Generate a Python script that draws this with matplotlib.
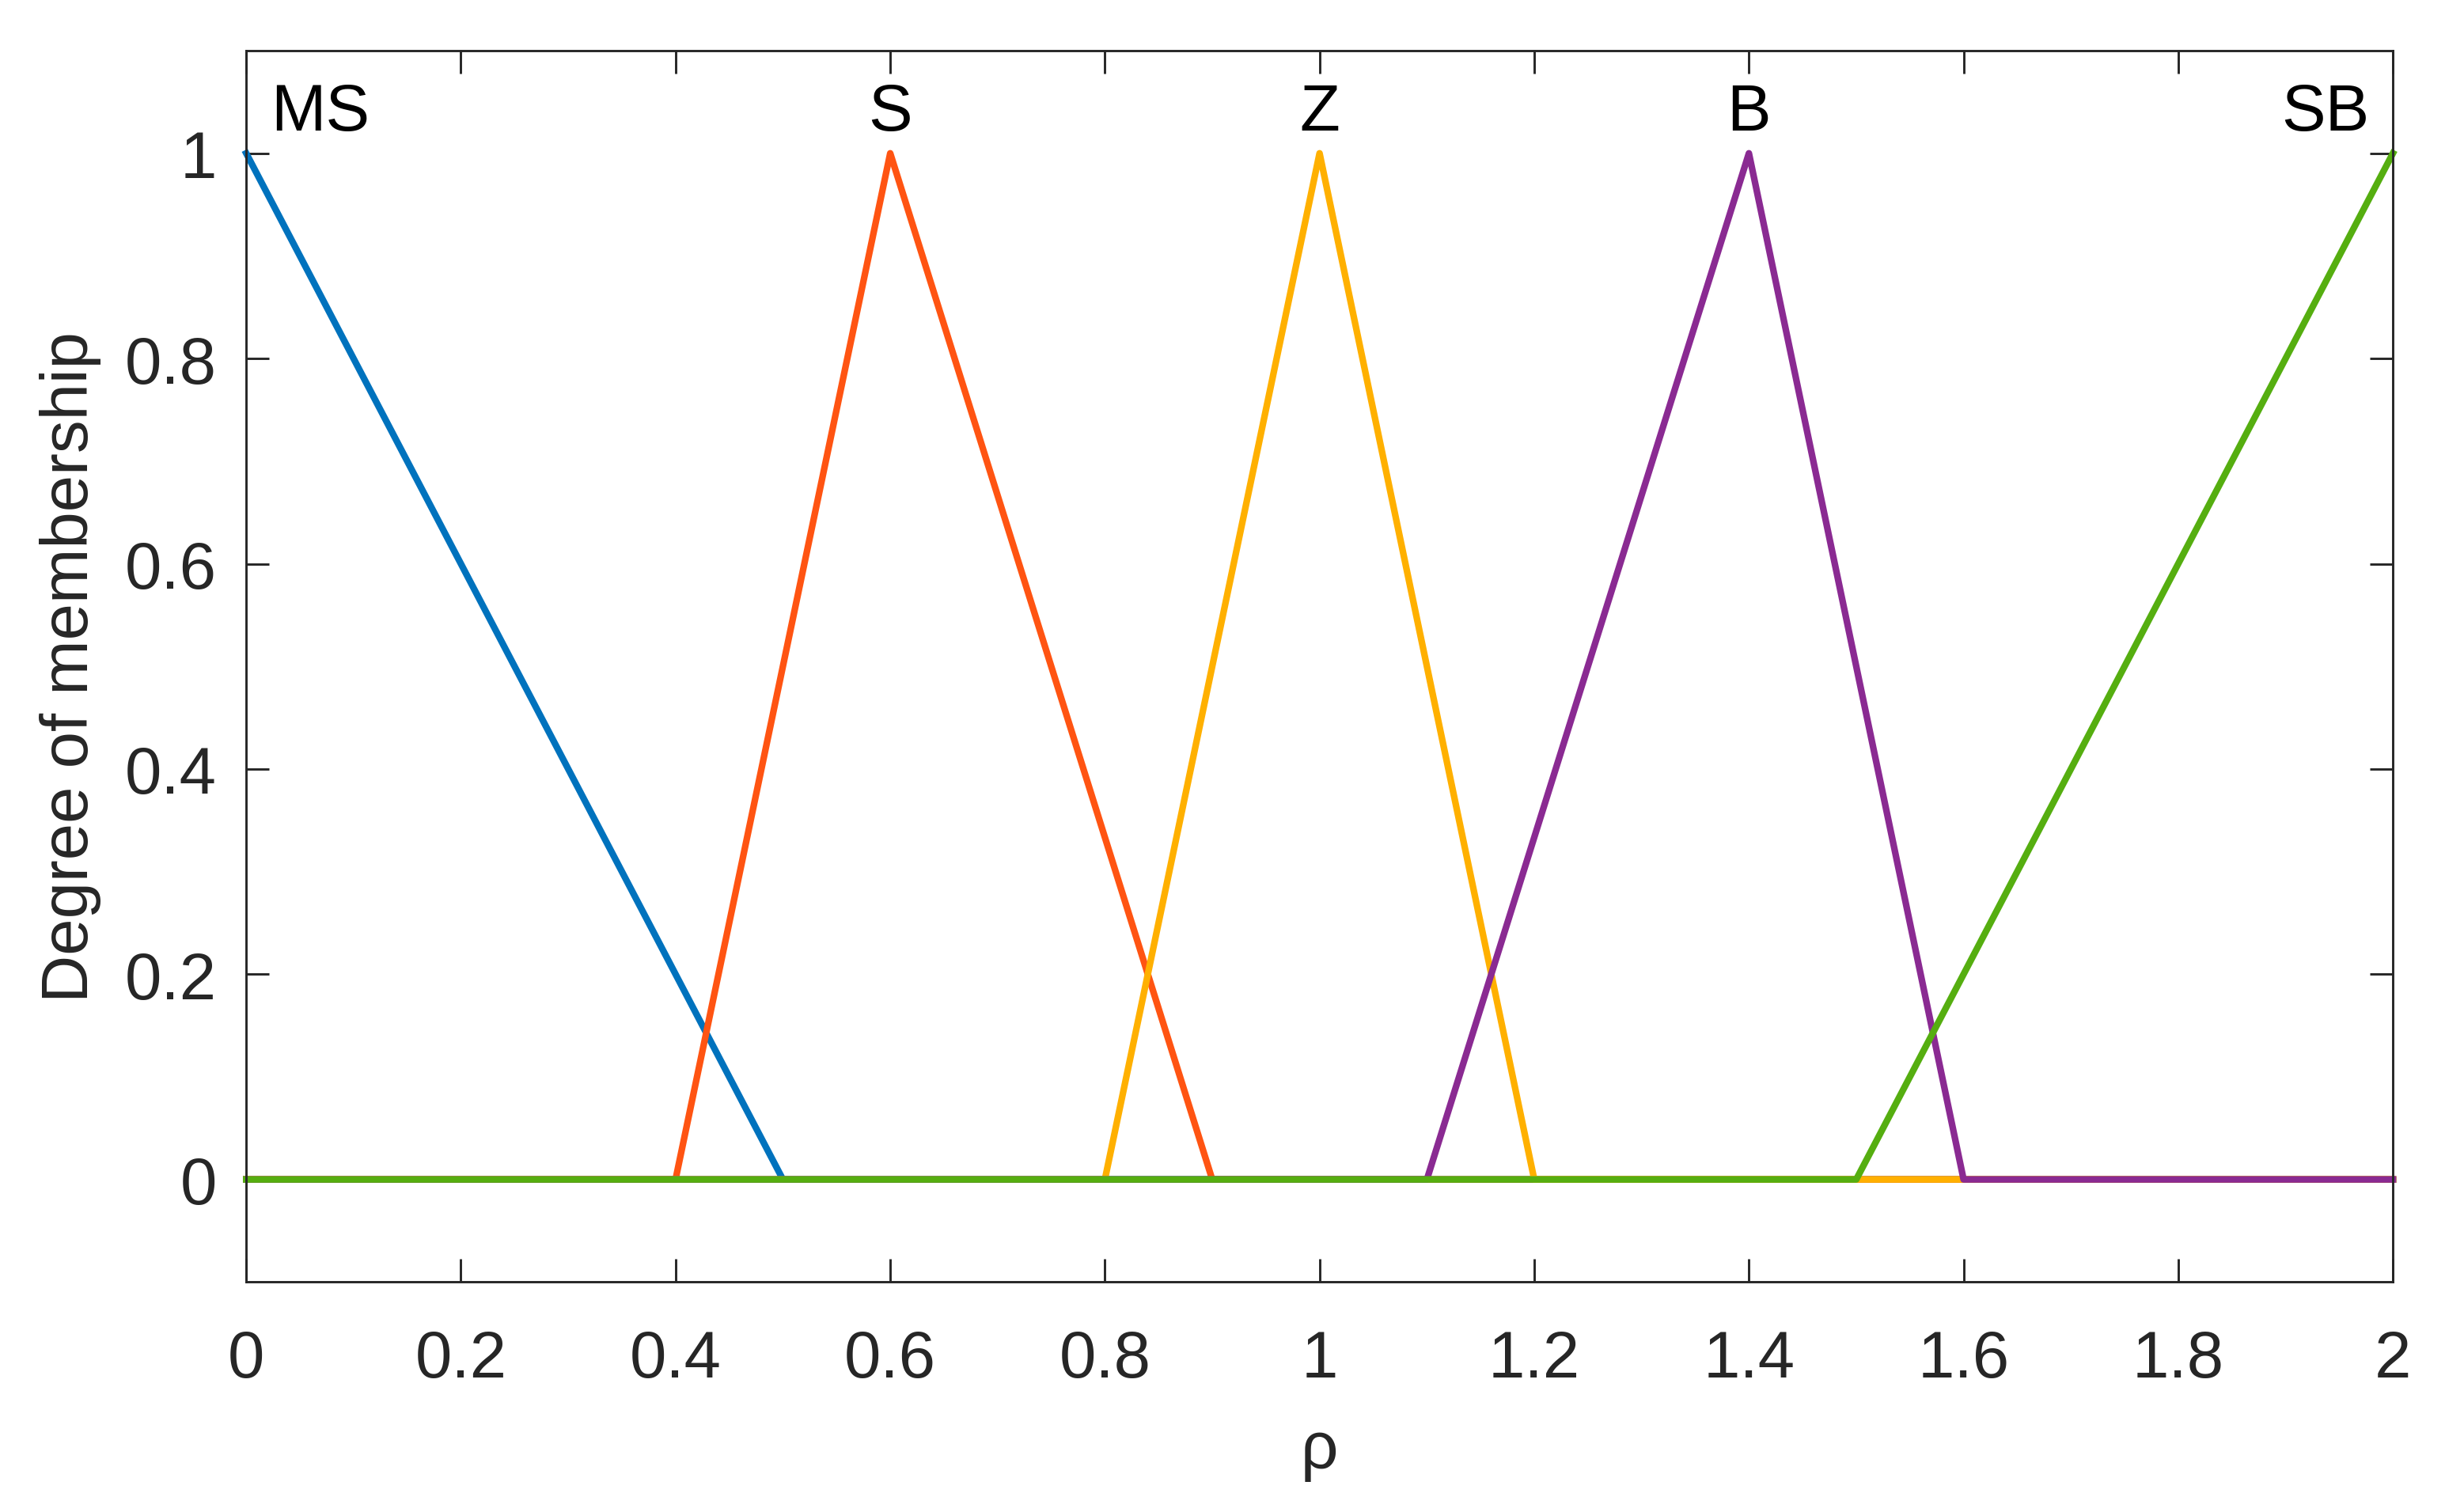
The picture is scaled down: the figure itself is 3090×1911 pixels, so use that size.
import matplotlib
matplotlib.use("Agg")
import matplotlib.pyplot as plt

plt.rcParams['font.family'] = ['Liberation Sans', 'DejaVu Sans']

# membership function breakpoints (rho, degree)
ms_x = [0, 0.5, 2]
ms_y = [1, 0, 0]
s_x = [0, 0.4, 0.6, 0.9, 2]
s_y = [0, 0, 1, 0, 0]
z_x = [0, 0.8, 1.0, 1.2, 2]
z_y = [0, 0, 1, 0, 0]
b_x = [0, 1.1, 1.4, 1.6, 2]
b_y = [0, 0, 1, 0, 0]
sb_x = [0, 1.5, 2]
sb_y = [0, 0, 1]

labels = ['MS', 'S', 'Z', 'B', 'SB']
label_x = [0.023, 0.6, 1.0, 1.4, 1.978]
label_ha = ['left', 'center', 'center', 'center', 'right']
colors = ['#0072BD', '#FF5412', '#FFB000', '#8A2A92', '#55AE10']

xticks = [0, 0.2, 0.4, 0.6, 0.8, 1, 1.2, 1.4, 1.6, 1.8, 2]
xticklabels = ['0', '0.2', '0.4', '0.6', '0.8', '1', '1.2', '1.4', '1.6', '1.8', '2']
yticks = [0, 0.2, 0.4, 0.6, 0.8, 1]
yticklabels = ['0', '0.2', '0.4', '0.6', '0.8', '1']

fig = plt.figure(figsize=(10.3, 6.3733), dpi=300)
ax = fig.add_axes([0.1007, 0.152, 0.878, 0.814])

for (x, y), c in zip([(ms_x, ms_y), (s_x, s_y), (z_x, z_y), (b_x, b_y), (sb_x, sb_y)], colors):
    ax.plot(x, y, color=c, lw=2.0, solid_joinstyle='round', clip_on=False)

for lab, lx, ha in zip(labels, label_x, label_ha):
    ax.text(lx, 1.04, lab, ha=ha, va='center', fontsize=20, color='black')

ax.set_xlim(0, 2)
ax.set_ylim(-0.1, 1.1)
ax.set_xticks(xticks)
ax.set_xticklabels(xticklabels)
ax.set_yticks(yticks)
ax.set_yticklabels(yticklabels)
ax.tick_params(direction='in', length=7, width=0.7, colors='#262626', labelsize=20,
               top=True, right=True, labelcolor='#262626')
ax.tick_params(axis='x', pad=14)
ax.tick_params(axis='y', pad=9)
for sp in ax.spines.values():
    sp.set_linewidth(0.7)
    sp.set_color('#262626')

ax.set_xlabel('ρ', fontsize=20, color='#262626', labelpad=9)
ax.set_ylabel('Degree of membership', fontsize=20, color='#262626', labelpad=7)

fig.savefig('out.png', dpi=300)
